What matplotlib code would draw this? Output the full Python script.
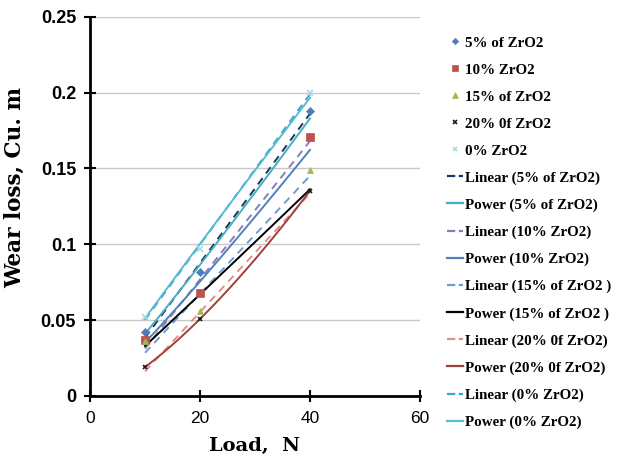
import matplotlib
matplotlib.use('Agg')
import matplotlib.pyplot as plt
import numpy as np
from matplotlib.lines import Line2D

# loads (N) and wear loss
load = [10, 20, 40]
zro2_5 = [0.042, 0.082, 0.188]
zro2_10 = [0.037, 0.068, 0.171]
zro2_15 = [0.036, 0.056, 0.149]
zro2_20 = [0.019, 0.051, 0.135]
zro2_0 = [0.052, 0.097, 0.200]

series_names = ['5% of ZrO2', '10% ZrO2', '15% of ZrO2', '20% 0f ZrO2', '0% ZrO2']
trend_names = ['5% of ZrO2', '10% ZrO2', '15% of ZrO2 ', '20% 0f ZrO2', '0% ZrO2']
series_values = [zro2_5, zro2_10, zro2_15, zro2_20, zro2_0]

marker_styles = ['D', 's', '^', 'x', 'x']
marker_sizes = [4, 6, 5, 3, 4]
marker_colors = ['#4a7ebb', '#c0504d', '#9bbb59', '#1a1a1a', '#a8dce8']
linear_colors = ['#17375e', '#8a7cb8', '#6f9bd1', '#e08f8b', '#31a9cc']
power_colors = ['#4bacc6', '#4f81bd', '#000000', '#a33f3b', '#5bbad3']

fig = plt.figure(figsize=(6.18, 4.68), dpi=100)
ax = fig.add_axes([0.1456, 0.154, 0.534, 0.81])

xs = np.linspace(10, 40, 100)
scatter_handles = []
linear_handles = []
power_handles = []
for name, tname, vals, mk, ms, mc, lc, pc in zip(series_names, trend_names, series_values,
                                                 marker_styles, marker_sizes, marker_colors,
                                                 linear_colors, power_colors):
    x = np.array(load, dtype=float)
    y = np.array(vals)
    h, = ax.plot(x, y, linestyle='none', marker=mk, markersize=ms, color=mc,
                 markeredgewidth=1.2 if mk == 'x' else 0.5, label=name, zorder=4)
    scatter_handles.append(h)
    # linear trendline
    k, c = np.polyfit(x, y, 1)
    hl, = ax.plot(xs, k * xs + c, color=lc, linestyle=(0, (4, 3)), linewidth=1.4,
                  label='Linear (' + tname + ')', zorder=3)
    linear_handles.append(hl)
    # power trendline
    b, loga = np.polyfit(np.log(x), np.log(y), 1)
    hp, = ax.plot(xs, np.exp(loga) * xs ** b, color=pc, linestyle='-', linewidth=1.4,
                  label='Power (' + tname + ')', zorder=3)
    power_handles.append(hp)

ax.set_xlim(0, 60)
ax.set_ylim(0, 0.25)
ax.set_xticks([0, 20, 40, 60])
ax.set_yticks([0, 0.05, 0.1, 0.15, 0.2, 0.25])
ax.set_yticklabels(['0', '0.05', '0.1', '0.15', '0.2', '0.25'])
ax.yaxis.grid(True, color='#c8c8c8', linewidth=1)
ax.set_axisbelow(True)
for s in ['top', 'right']:
    ax.spines[s].set_visible(False)
for s in ['left', 'bottom']:
    ax.spines[s].set_linewidth(2)
ax.tick_params(axis='both', direction='inout', length=8, width=1.5)
ax.tick_params(axis='y', pad=6)
ax.tick_params(axis='x', pad=7)
for lab in ax.get_yticklabels():
    lab.set_fontfamily('Liberation Sans')
    lab.set_fontweight('bold')
    lab.set_fontsize(13)
for lab in ax.get_xticklabels():
    lab.set_fontfamily('Liberation Sans')
    lab.set_fontsize(12.5)

ax.set_xlabel('Load,  N', fontfamily='DejaVu Serif', fontweight='bold', fontsize=14, labelpad=8)
ax.set_ylabel('Wear loss, Cu. m', fontfamily='DejaVu Serif', fontweight='bold', fontsize=15.5)
ax.yaxis.set_label_coords(-0.195, 0.55)

handles = scatter_handles[:]
for hl, hp in zip(linear_handles, power_handles):
    handles.append(hl)
    handles.append(hp)
leg_handles = []
for h in handles:
    if h.get_linestyle() == 'None':
        leg_handles.append(Line2D([], [], linestyle='none', marker=h.get_marker(),
                                  markersize=h.get_markersize() * 0.8, color=h.get_color(),
                                  markeredgewidth=h.get_markeredgewidth()))
    else:
        leg_handles.append(Line2D([], [], linestyle=h.get_linestyle(), color=h.get_color(),
                                  linewidth=1.6))
ax.legend(leg_handles, [h.get_label() for h in handles], loc='upper left',
          bbox_to_anchor=(1.04, 0.985), frameon=False, numpoints=1, handlelength=1.1,
          handletextpad=0.15, labelspacing=0.9,
          prop={'family': 'Liberation Serif', 'weight': 'bold', 'size': 10.8})

fig.savefig('out.png', dpi=100)
